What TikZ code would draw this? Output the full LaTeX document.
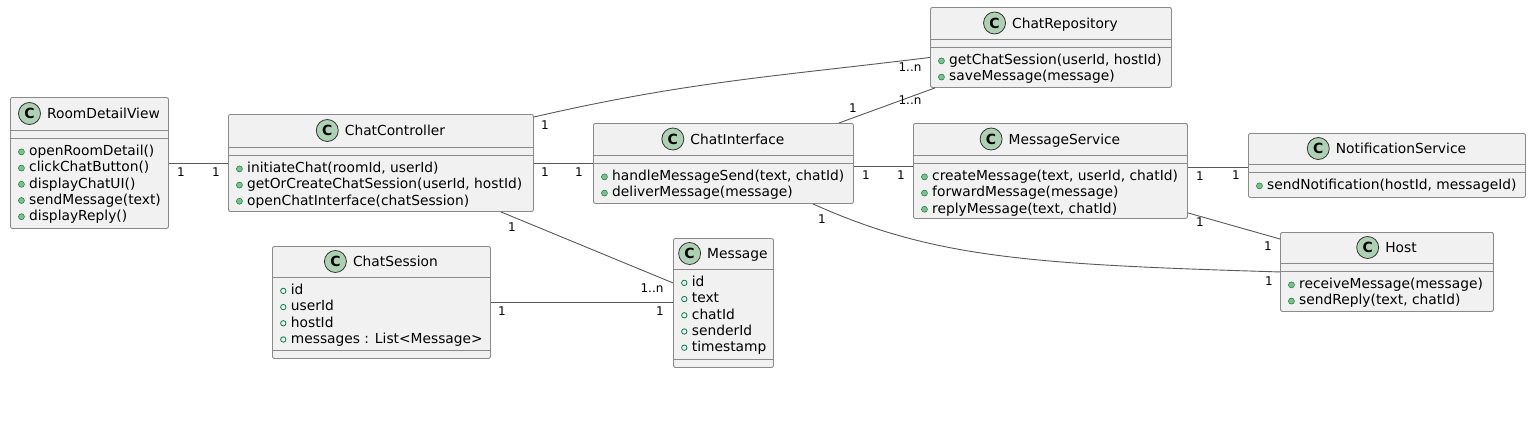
\documentclass[tikz,border=0pt]{standalone}
\usepackage{fontspec}
\setmainfont{DejaVu Sans}
\usepackage{xcolor}
\usepackage{tikz}
\usetikzlibrary{positioning,calc}

\definecolor{boxfill}{HTML}{F1F1F1}
\definecolor{boxline}{HTML}{8A8A8A}
\definecolor{iconfill}{HTML}{ADD1B2}
\definecolor{dotfill}{HTML}{84BE84}
\definecolor{dotline}{HTML}{038048}

% member markers: method (filled) and field (hollow)
\newcommand{\opdot}{\tikz[baseline=-3.8pt]\draw[dotline, fill=dotfill, line width=0.5pt] (0,0) circle[radius=3pt];\hspace{4.5pt}}
\newcommand{\attdot}{\tikz[baseline=-3.8pt]\draw[dotline, line width=0.8pt] (0,0) circle[radius=2.7pt];\hspace{4.5pt}}

\begin{document}
\begin{tikzpicture}[x=1pt, y=-1pt,
  cls/.style 2 args={draw=boxline, fill=boxfill, line width=0.9pt, rounded corners=2pt,
    anchor=north west, inner sep=0pt,
    path picture={
      \draw[boxline, line width=0.9pt] ([yshift=-#1]path picture bounding box.north west) -- ([yshift=-#1]path picture bounding box.north east);
      \draw[boxline, line width=0.9pt] ([yshift=-#2]path picture bounding box.north west) -- ([yshift=-#2]path picture bounding box.north east);}},
  cicon/.style={circle, draw=black!80, fill=iconfill, line width=0.8pt, minimum size=22pt,
    inner sep=0pt, font=\fontsize{14}{14}\selectfont\bfseries},
  cname/.style={font=\fontsize{13.8}{16}\selectfont, inner sep=0pt, text height=10pt, text depth=0pt,
    label={[cicon, label distance=6pt]left:C}},
  mem/.style={anchor=north west, align=left, inner sep=0pt, font=\fontsize{13.8}{16.2}\selectfont},
  assoc/.style={draw=black!65, line width=0.9pt},
  mult/.style={inner sep=0pt, font=\fontsize{12}{12}\selectfont}
]
\path[use as bounding box, fill=white] (0,0) rectangle (1538,431);

% classes
\node[cls={33pt}{41pt}, minimum width=158pt, minimum height=131pt] (rdv) at (10,97) {};
\node[cname] (rdv-n) at ($(rdv.north)+(14,16.5)$) {RoomDetailView};
\node[mem] (rdv-m) at ($(rdv.north west)+(8,48)$) {\opdot openRoomDetail()\\\opdot clickChatButton()\\\opdot displayChatUI()\\\opdot sendMessage(text)\\\opdot displayReply()};

\node[cls={33pt}{41pt}, minimum width=305pt, minimum height=97pt] (cc) at (228,114) {};
\node[cname] (cc-n) at ($(cc.north)+(14,16.5)$) {ChatController};
\node[mem] (cc-m) at ($(cc.north west)+(8,48)$) {\opdot initiateChat(roomId, userId)\\\opdot getOrCreateChatSession(userId, hostId)\\\opdot openChatInterface(chatSession)};

\node[cls={32pt}{40pt}, minimum width=260pt, minimum height=80pt] (ci) at (593,123) {};
\node[cname] (ci-n) at ($(ci.north)+(14,16)$) {ChatInterface};
\node[mem] (ci-m) at ($(ci.north west)+(8,47)$) {\opdot handleMessageSend(text, chatId)\\\opdot deliverMessage(message)};

\node[cls={32pt}{40pt}, minimum width=241pt, minimum height=80pt] (repo) at (930,7) {};
\node[cname] (repo-n) at ($(repo.north)+(14,16)$) {ChatRepository};
\node[mem] (repo-m) at ($(repo.north west)+(8,47)$) {\opdot getChatSession(userId, hostId)\\\opdot saveMessage(message)};

\node[cls={32pt}{40pt}, minimum width=274pt, minimum height=95pt] (ms) at (913,123) {};
\node[cname] (ms-n) at ($(ms.north)+(14,16)$) {MessageService};
\node[mem] (ms-m) at ($(ms.north west)+(8,47)$) {\opdot createMessage(text, userId, chatId)\\\opdot forwardMessage(message)\\\opdot replyMessage(text, chatId)};

\node[cls={31pt}{39pt}, minimum width=277pt, minimum height=64pt] (ns) at (1248,133) {};
\node[cname] (ns-n) at ($(ns.north)+(14,15.5)$) {NotificationService};
\node[mem] (ns-m) at ($(ns.north west)+(8,46)$) {\opdot sendNotification(hostId, messageId)};

\node[cls={31pt}{39pt}, minimum width=213pt, minimum height=79pt] (host) at (1280,232) {};
\node[cname] (host-n) at ($(host.north)+(14,15.5)$) {Host};
\node[mem] (host-m) at ($(host.north west)+(8,46)$) {\opdot receiveMessage(message)\\\opdot sendReply(text, chatId)};

\node[cls={31pt}{104pt}, minimum width=218pt, minimum height=112pt] (cs) at (272,246) {};
\node[cname] (cs-n) at ($(cs.north)+(14,15.5)$) {ChatSession};
\node[mem] (cs-m) at ($(cs.north west)+(8,38)$) {\attdot id\\\attdot userId\\\attdot hostId\\\attdot messages : List<Message>};

\node[cls={31pt}{121pt}, minimum width=100pt, minimum height=129pt] (msg) at (673,238) {};
\node[cname] (msg-n) at ($(msg.north)+(14,15.5)$) {Message};
\node[mem] (msg-m) at ($(msg.north west)+(8,38)$) {\attdot id\\\attdot text\\\attdot chatId\\\attdot senderId\\\attdot timestamp};

% associations
\draw[assoc] (rdv.east) -- (rdv.east -| cc.west);
\draw[assoc] (cc.east) -- (cc.east -| ci.west);
\draw[assoc] ([yshift=-3pt]ci.east) -- ([yshift=-3pt]ci.east -| ms.west);
\draw[assoc] ([yshift=-2pt]ns.west -| ms.east) -- ([yshift=-2pt]ns.west);
\draw[assoc] ([yshift=6pt]ms.south east) -- ([yshift=-7pt]host.north west);
\draw[assoc] ([xshift=-41pt]ci.south east) .. controls +(120,54) and +(-250,-7.5) .. (host.west);
\draw[assoc] ([yshift=-3pt]cc.north east) to[out=13, in=187] ([yshift=-10pt]repo.west);
\draw[assoc] ([xshift=-15pt]ci.north east) -- ([xshift=5pt]repo.south west);
\draw[assoc] ([xshift=-33pt]cc.south east) -- ([yshift=20pt]msg.west);
\draw[assoc] (cs.east) -- (cs.east -| msg.west);

% multiplicities
\node[mult] (m1) at (181,172) {1};
\node[mult] (m2) at (216,172) {1};
\node[mult] (m3) at (545,172) {1};
\node[mult] (m4) at (579,172) {1};
\node[mult] (m5) at (866,175) {1};
\node[mult] (m6) at (901,175) {1};
\node[mult] (m7) at (1200,176) {1};
\node[mult] (m8) at (1236,175) {1};
\node[mult] (m9) at (1200,222) {1};
\node[mult] (m10) at (1268,246) {1};
\node[mult] (m11) at (822,219) {1};
\node[mult] (m12) at (1269,281) {1};
\node[mult] (m13) at (545,125) {1};
\node[mult] (m14) at (910,67) {1..n};
\node[mult] (m15) at (853,108) {1};
\node[mult] (m16) at (910,100) {1..n};
\node[mult] (m17) at (512,227) {1};
\node[mult] (m18) at (652,288) {1..n};
\node[mult] (m19) at (502,311) {1};
\node[mult] (m20) at (660,311) {1};
\end{tikzpicture}
\end{document}
